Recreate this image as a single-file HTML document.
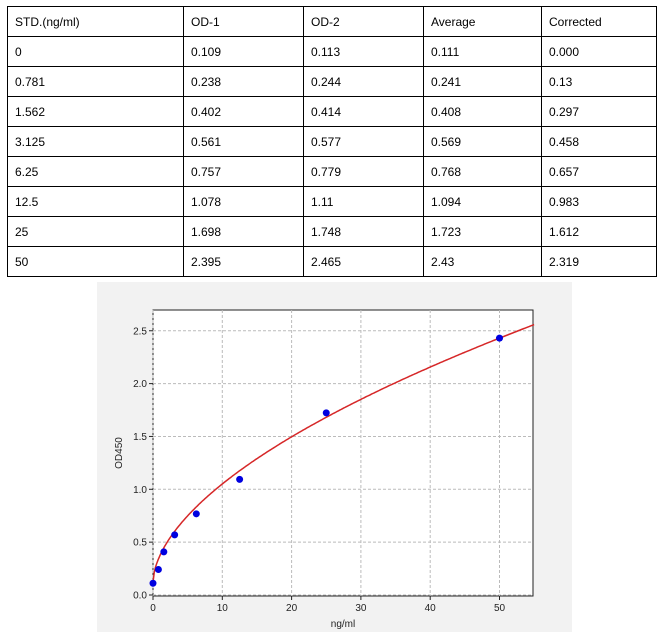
<!DOCTYPE html>
<html><head><meta charset="utf-8"><style>
body{margin:0;background:#fff;width:665px;height:634px;position:relative;overflow:hidden;font-family:"Liberation Sans",sans-serif}
table{position:absolute;left:7px;top:6px;border-collapse:collapse;font-size:12px;color:#000}
td{border:1px solid #000;height:30px;padding:0 0 0 7px;box-sizing:border-box}
#box{position:absolute;left:97px;top:282px;width:475px;height:350px;background:#f2f2f2}
svg{position:absolute;left:0;top:0}
</style></head><body>
<table>
<colgroup><col style="width:176px"><col style="width:120px"><col style="width:120px"><col style="width:118px"><col style="width:115px"></colgroup>
<tr><td>STD.(ng/ml)</td><td>OD-1</td><td>OD-2</td><td>Average</td><td>Corrected</td></tr>
<tr><td>0</td><td>0.109</td><td>0.113</td><td>0.111</td><td>0.000</td></tr>
<tr><td>0.781</td><td>0.238</td><td>0.244</td><td>0.241</td><td>0.13</td></tr>
<tr><td>1.562</td><td>0.402</td><td>0.414</td><td>0.408</td><td>0.297</td></tr>
<tr><td>3.125</td><td>0.561</td><td>0.577</td><td>0.569</td><td>0.458</td></tr>
<tr><td>6.25</td><td>0.757</td><td>0.779</td><td>0.768</td><td>0.657</td></tr>
<tr><td>12.5</td><td>1.078</td><td>1.11</td><td>1.094</td><td>0.983</td></tr>
<tr><td>25</td><td>1.698</td><td>1.748</td><td>1.723</td><td>1.612</td></tr>
<tr><td>50</td><td>2.395</td><td>2.465</td><td>2.43</td><td>2.319</td></tr>
</table>
<div id="box"></div>
<svg width="665" height="634" id="s" font-family="Liberation Sans, sans-serif" font-size="10" fill="#222">
<rect x="153" y="310" width="380" height="286" fill="#fff" stroke="#222" stroke-width="1"/>
<g id="g"></g>
<text x="343" y="627" text-anchor="middle">ng/ml</text>
<text transform="translate(122,453) rotate(-90)" text-anchor="middle">OD450</text>
</svg>
<script>
var g=document.getElementById('g'),h='';
function X(v){return 153+v*6.93}function Y(v){return 595-v*105.7}
for(var i=0;i<=50;i+=10){var x=X(i);h+='<line x1="'+x+'" y1="310" x2="'+x+'" y2="596" stroke="#bbb" stroke-dasharray="3,2"/><line x1="'+x+'" y1="596" x2="'+x+'" y2="600" stroke="#222"/><text x="'+x+'" y="611" text-anchor="middle">'+i+'</text>';}
for(var j=0;j<=5;j++){var v=j*0.5,y=Y(v);h+='<line x1="153" y1="'+y+'" x2="533" y2="'+y+'" stroke="#bbb" stroke-dasharray="3,2"/><line x1="149" y1="'+y+'" x2="153" y2="'+y+'" stroke="#222"/><text x="147" y="'+(y+3.5)+'" text-anchor="end">'+v.toFixed(1)+'</text>';}
var c=0.565,b=2.31/Math.pow(50,c);
var p='';for(var k=0;k<=300;k++){var xv=55*k/300,yv=0.12+b*Math.pow(xv,c);p+=(k?'L':'M')+X(xv).toFixed(1)+','+Y(yv).toFixed(1);}
h+='<path d="'+p+'" fill="none" stroke="#d62728" stroke-width="1.5"/>';
var pts=[[0,0.111],[0.781,0.241],[1.562,0.408],[3.125,0.569],[6.25,0.768],[12.5,1.094],[25,1.723],[50,2.43]];
pts.forEach(function(q){h+='<circle cx="'+X(q[0])+'" cy="'+Y(q[1])+'" r="3.5" fill="#0000e0"/>';});
g.innerHTML=h;
</script>
</body></html>
